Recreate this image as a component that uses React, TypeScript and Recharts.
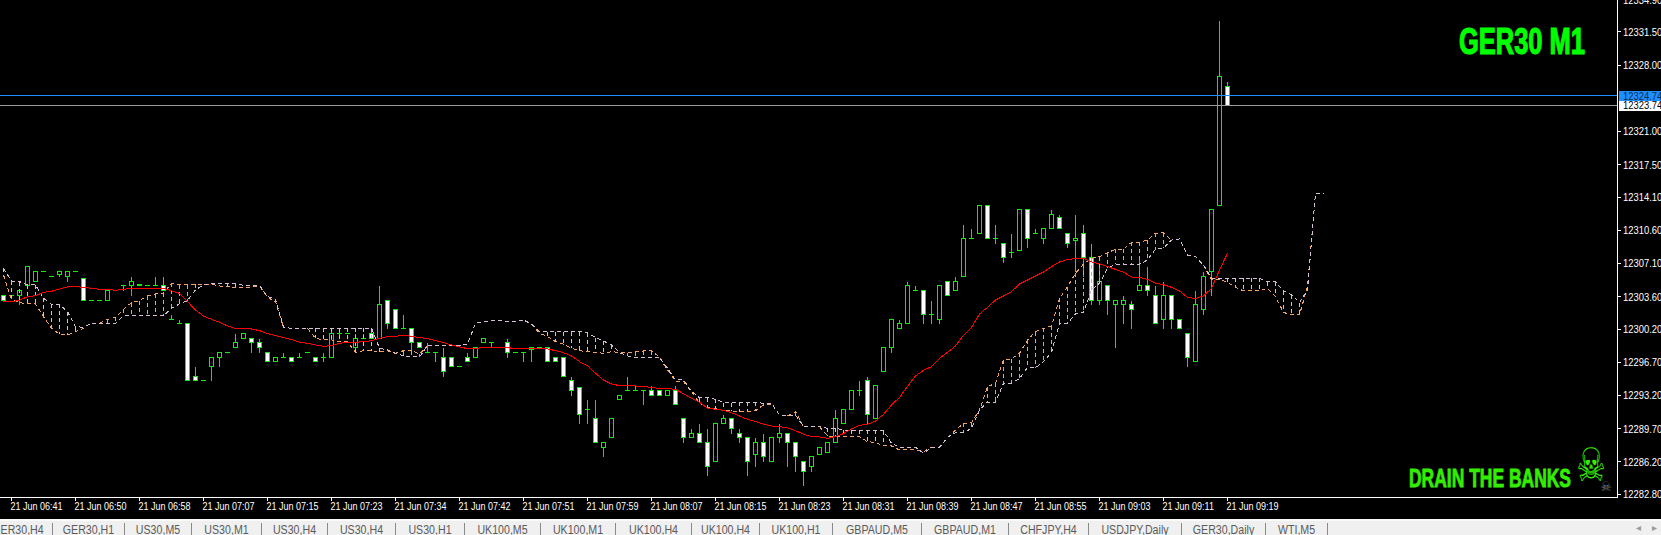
import { Bar, ComposedChart, Line, ReferenceLine, XAxis, YAxis } from 'recharts';

// all prices are stored minus this base
const PRICE_BASE = 12000;

const opens = [
  303.74, 303.74, 303.74, 304.74, 305.24, 306.24, 305.74, 305.99, 305.74, 306.24,
  305.49, 303.24, 303.24, 303.24, 304.24, 304.74, 304.74, 304.74, 304.74, 304.74,
  304.74, 301.24, 300.74, 300.74, 295.24, 294.74, 296.24, 297.24, 297.74, 298.24,
  299.24, 299.24, 298.74, 297.74, 296.74, 297.24, 297.24, 297.24, 297.74, 297.24,
  297.24, 297.24, 299.74, 299.74, 298.24, 299.24, 299.74, 299.24, 303.24, 302.24,
  300.24, 300.24, 298.74, 297.74, 297.74, 297.24, 297.24, 296.24, 297.24, 297.24,
  298.74, 298.74, 298.24, 298.74, 297.74, 297.74, 297.99, 298.24, 298.24, 297.24,
  297.24, 294.74, 293.99, 291.74, 290.74, 287.74, 288.74, 292.74, 293.74, 293.74,
  293.74, 293.74, 293.74, 293.24, 293.74, 290.74, 288.74, 289.24, 288.24, 286.24,
  290.24, 290.74, 289.24, 288.74, 286.99, 288.24, 286.24, 288.74, 289.24, 288.24,
  286.24, 285.74, 286.99, 287.24, 288.24, 290.24, 291.74, 293.74, 294.74, 290.74,
  295.74, 298.24, 300.24, 300.74, 304.24, 304.24, 301.74, 301.24, 305.24, 304.24,
  305.74, 309.74, 310.24, 313.24, 309.74, 309.24, 308.24, 308.49, 312.74, 310.24,
  309.74, 310.74, 311.99, 310.24, 309.49, 310.24, 307.74, 303.24, 304.74, 302.74,
  302.74, 302.74, 304.24, 304.74, 303.74, 301.24, 303.74, 301.24, 299.74, 296.74,
  302.24, 306.24, 313.24, 325.74,
];

const highs = [
  303.74, 303.74, 304.24, 306.74, 306.24, 306.24, 305.74, 306.24, 306.24, 306.24,
  305.49, 303.24, 303.24, 304.24, 304.24, 304.74, 305.74, 304.84, 304.74, 305.74,
  305.74, 301.74, 301.24, 300.74, 296.24, 294.74, 297.24, 297.74, 297.74, 299.74,
  299.74, 299.24, 299.24, 297.74, 297.24, 297.74, 297.24, 297.74, 297.74, 297.24,
  297.74, 300.24, 300.24, 299.74, 299.74, 299.74, 300.24, 304.74, 303.24, 302.24,
  301.74, 300.24, 298.74, 298.74, 297.74, 298.24, 297.24, 296.24, 297.74, 298.24,
  299.24, 298.74, 298.24, 299.24, 297.74, 297.74, 298.24, 298.24, 298.24, 297.24,
  297.24, 295.24, 293.99, 292.74, 292.74, 288.24, 290.74, 293.24, 295.24, 294.24,
  293.74, 294.24, 293.74, 293.74, 294.24, 290.74, 289.74, 290.24, 289.74, 290.24,
  291.24, 290.74, 289.74, 288.74, 288.74, 289.24, 288.74, 290.24, 289.24, 288.24,
  286.24, 286.74, 287.74, 288.24, 291.74, 291.74, 293.74, 294.74, 295.24, 294.24,
  298.24, 301.24, 301.24, 305.24, 304.74, 304.24, 303.24, 304.74, 305.24, 305.74,
  311.24, 310.74, 313.24, 313.24, 311.24, 309.24, 310.24, 312.74, 312.74, 310.74,
  310.74, 312.74, 312.24, 310.24, 312.24, 311.24, 309.24, 306.74, 304.74, 303.24,
  303.74, 303.24, 307.74, 306.74, 304.74, 305.24, 303.74, 301.24, 299.74, 304.24,
  306.24, 312.74, 332.74, 326.24,
];

const lows = [
  303.24, 303.74, 302.74, 304.74, 305.24, 306.24, 305.74, 305.74, 305.24, 306.24,
  303.24, 303.24, 303.24, 303.24, 304.24, 304.24, 303.74, 304.74, 304.74, 304.74,
  304.24, 301.24, 300.74, 294.74, 294.74, 294.74, 294.74, 296.24, 297.74, 298.24,
  299.24, 297.74, 297.74, 296.74, 296.74, 297.24, 296.74, 297.24, 297.74, 296.74,
  296.74, 297.24, 299.24, 299.74, 297.74, 299.24, 299.24, 299.24, 300.24, 300.24,
  300.24, 297.74, 298.24, 297.74, 296.74, 295.24, 296.24, 296.24, 296.74, 297.24,
  298.74, 298.24, 298.24, 297.24, 297.74, 296.74, 296.74, 298.24, 296.74, 296.74,
  295.24, 293.24, 290.24, 290.24, 288.24, 286.74, 288.74, 292.74, 293.74, 293.74,
  292.24, 293.24, 293.24, 293.24, 292.24, 288.24, 288.74, 288.24, 284.74, 286.24,
  290.24, 289.24, 288.24, 284.74, 285.74, 286.24, 286.24, 288.24, 285.74, 285.24,
  283.74, 285.24, 286.99, 287.24, 288.24, 290.24, 291.74, 293.24, 290.24, 290.74,
  295.74, 297.74, 300.24, 300.74, 304.24, 300.74, 300.74, 300.74, 303.74, 304.24,
  305.74, 309.74, 310.24, 309.74, 309.24, 307.24, 307.74, 308.49, 308.74, 310.24,
  309.24, 310.74, 310.74, 308.74, 306.24, 305.74, 302.74, 302.74, 301.74, 298.24,
  300.74, 300.24, 304.24, 303.74, 300.74, 300.24, 300.24, 300.24, 296.24, 296.74,
  301.74, 303.74, 313.24, 323.74,
];

const closes = [
  303.24, 303.74, 304.24, 306.74, 306.24, 306.24, 305.74, 306.24, 306.24, 306.24,
  303.24, 303.24, 303.24, 304.24, 304.24, 304.74, 305.24, 304.84, 304.74, 304.74,
  304.24, 301.24, 300.74, 294.74, 294.74, 294.74, 297.24, 297.74, 297.74, 298.74,
  299.74, 298.74, 298.24, 296.74, 297.24, 297.24, 296.74, 297.24, 297.74, 296.74,
  297.24, 299.74, 299.74, 299.74, 299.24, 299.24, 299.24, 302.74, 300.74, 300.24,
  300.24, 298.74, 298.24, 297.74, 297.74, 295.74, 296.24, 296.24, 296.74, 298.24,
  299.24, 298.74, 298.24, 297.74, 297.74, 297.74, 298.24, 298.24, 296.74, 296.74,
  295.24, 293.74, 291.24, 291.74, 288.24, 288.24, 290.74, 293.24, 293.74, 293.74,
  293.74, 293.24, 293.24, 293.74, 292.24, 288.74, 289.24, 288.24, 285.74, 290.24,
  290.74, 289.74, 288.74, 286.24, 288.24, 286.74, 288.74, 289.24, 288.24, 286.74,
  285.24, 286.74, 287.74, 288.24, 290.74, 291.74, 293.74, 293.74, 291.24, 294.24,
  298.24, 301.24, 300.74, 304.74, 304.24, 301.74, 301.74, 304.74, 303.74, 305.24,
  309.74, 309.74, 313.24, 309.74, 309.74, 307.74, 308.24, 312.74, 309.74, 310.24,
  310.74, 312.24, 310.74, 309.24, 309.74, 307.74, 303.24, 305.24, 303.24, 303.24,
  303.24, 302.24, 304.74, 304.24, 300.74, 303.74, 301.24, 300.24, 297.24, 302.74,
  305.74, 312.74, 326.74, 323.74,
];

const redLine = [
  303.05, 303.08, 303.22, 303.61, 303.71, 304.06, 304.17, 304.41, 304.63, 304.66,
  304.59, 304.49, 304.38, 304.38, 304.28, 304.38, 304.49, 304.49, 304.49, 304.49,
  304.49, 304.21, 303.96, 303.08, 302.2, 301.57, 301.22, 300.91, 300.52, 300.27,
  300.27, 300.2, 300.03, 299.71, 299.5, 299.29, 299.08, 298.8, 298.69, 298.52,
  298.38, 298.45, 298.69, 298.8, 298.8, 298.87, 298.97, 299.22, 299.4, 299.43,
  299.54, 299.43, 299.29, 299.19, 298.98, 298.77, 298.52, 298.31, 298.13, 298.17,
  298.24, 298.27, 298.27, 298.24, 298.13, 298.13, 298.13, 298.13, 298.1, 297.92,
  297.71, 297.36, 296.77, 296.34, 295.54, 294.83, 294.41, 294.24, 294.24, 294.2,
  294.13, 294.06, 293.92, 293.92, 293.85, 293.39, 292.9, 292.48, 291.85, 291.75,
  291.64, 291.39, 291.04, 290.69, 290.48, 290.16, 289.99, 289.92, 289.78, 289.5,
  289.11, 288.9, 288.83, 288.69, 288.87, 289.18, 289.67, 290.05, 290.16, 290.51,
  291.21, 292.2, 293.0, 294.13, 295.25, 295.85, 296.23, 297.11, 297.74, 298.41,
  299.53, 300.38, 301.78, 302.48, 303.25, 303.68, 304.13, 304.94, 305.36, 305.78,
  306.2, 306.77, 307.26, 307.5, 307.64, 307.64, 307.26, 307.05, 306.77, 306.48,
  306.17, 305.68, 305.64, 305.43, 305.01, 304.87, 304.59, 304.2, 303.54, 303.4,
  303.68, 304.48, 306.41, 308.17,
];

const spanA = [
  305.89, 303.33, 302.98, 302.84, 302.84, 301.5, 300.27, 299.64, 299.57, 299.92,
  300.27, 300.8, 300.8, 301.22, 301.43, 302.27, 302.98, 303.19, 303.71, 303.89,
  303.96, 305.01, 304.84, 304.84, 304.91, 304.91, 304.91, 304.73, 304.66, 304.59,
  304.59, 304.59, 304.73, 303.54, 303.08, 300.38, 300.27, 300.27, 300.27, 299.22,
  299.05, 299.05, 298.87, 298.87, 297.71, 297.92, 297.92, 297.81, 297.92, 297.64,
  297.92, 297.92, 297.57, 298.45, 298.49, 298.49, 298.49, 298.49, 298.59, 300.8,
  300.98, 301.05, 301.08, 300.98, 300.98, 301.15, 300.73, 299.75, 299.4, 298.87,
  298.59, 298.17, 297.92, 297.82, 297.75, 297.64, 297.82, 297.71, 297.71, 297.82,
  297.89, 297.92, 297.22, 295.89, 294.73, 294.66, 293.61, 292.38, 291.92, 291.85,
  291.6, 291.57, 291.5, 291.5, 291.6, 292.2, 292.31, 291.15, 291.04, 291.5,
  289.92, 289.92, 289.92, 288.94, 288.87, 288.93, 288.93, 288.86, 288.33, 288.26,
  287.88, 287.88, 287.46, 287.46, 287.46, 287.28, 287.74, 287.74, 288.79, 289.56,
  290.26, 290.33, 291.67, 294.13, 294.48, 296.94, 297.04, 297.64, 299.04, 299.92,
  300.27, 300.52, 303.43, 304.66, 306.06, 307.05, 307.64, 307.82, 308.24, 308.59,
  308.59, 309.33, 309.33, 309.57, 310.28, 310.35, 309.57, 309.68, 307.99, 307.82,
  306.94, 305.37, 305.44, 305.12, 304.6, 304.21, 304.21, 304.21, 304.49, 303.61,
  301.93, 301.75, 301.68, 304.67, 314.5, 314.5,
];

const spanB = [
  306.59, 305.26, 305.19, 304.84, 304.84, 303.43, 302.8, 302.8, 302.03, 300.45,
  300.38, 300.8, 300.8, 300.8, 300.8, 301.57, 301.57, 301.57, 301.57, 301.57,
  301.57, 302.38, 302.84, 303.19, 304.31, 304.84, 304.94, 305.01, 305.01, 305.01,
  304.8, 304.8, 304.8, 303.61, 303.33, 300.38, 300.27, 300.27, 300.27, 300.27,
  300.27, 300.27, 300.27, 300.27, 300.27, 300.27, 300.27, 298.17, 297.99, 297.64,
  297.36, 297.29, 297.25, 298.45, 298.49, 298.49, 298.49, 298.49, 298.59, 300.8,
  300.98, 301.05, 301.08, 300.98, 300.98, 301.15, 300.73, 299.96, 299.92, 299.92,
  299.92, 299.92, 299.92, 299.82, 299.29, 298.94, 298.52, 297.71, 297.36, 297.22,
  297.22, 297.22, 297.22, 296.06, 294.83, 294.83, 293.61, 292.97, 292.97, 292.8,
  292.45, 292.45, 292.48, 292.48, 292.48, 292.38, 292.38, 291.15, 291.04, 291.15,
  289.92, 289.92, 289.92, 289.74, 289.74, 289.56, 289.56, 289.56, 289.56, 289.56,
  289.49, 288.16, 287.74, 287.74, 287.74, 287.11, 287.74, 287.74, 288.79, 289.28,
  289.28, 289.74, 291.67, 292.51, 292.51, 294.48, 294.48, 295.0, 296.13, 296.13,
  296.76, 297.74, 300.8, 300.8, 301.78, 301.96, 304.31, 305.01, 306.59, 307.01,
  307.01, 307.01, 307.01, 307.47, 308.59, 308.7, 309.57, 309.68, 307.99, 307.82,
  306.94, 305.54, 305.54, 305.54, 305.54, 305.54, 305.54, 305.54, 305.19, 305.19,
  304.21, 303.79, 302.98, 304.31, 314.5, 314.5,
];

// first bar that carries a time label, then one label every 8 bars
const timeLabels = [
  '21 Jun 06:41', '21 Jun 06:50', '21 Jun 06:58', '21 Jun 07:07', '21 Jun 07:15',
  '21 Jun 07:23', '21 Jun 07:34', '21 Jun 07:42', '21 Jun 07:51', '21 Jun 07:59',
  '21 Jun 08:07', '21 Jun 08:15', '21 Jun 08:23', '21 Jun 08:31', '21 Jun 08:39',
  '21 Jun 08:47', '21 Jun 08:55', '21 Jun 09:03', '21 Jun 09:11', '21 Jun 09:19',
];

const priceTicks = [
  12334.9, 12331.5, 12328, 12324.74, 12323.74, 12321, 12317.5, 12314.1, 12310.6, 12307.1,
  12303.6, 12300.2, 12296.7, 12293.2, 12289.7, 12286.2, 12282.8,
];

const ASK = 12324.74;
const BID = 12323.74;

const tabNames = [
  'GER30,H4', 'GER30,H1', 'US30,M5', 'US30,M1', 'US30,H4', 'US30,H4', 'US30,H1', 'UK100,M5', 'UK100,M1',
  'UK100,H4', 'UK100,H4', 'UK100,H1', 'GBPAUD,M5', 'GBPAUD,M1', 'CHFJPY,H4', 'USDJPY,Daily', 'GER30,Daily', 'WTI,M5',
];
const tabEdges = [-16, 53, 125, 192, 262, 328, 396, 465, 541, 616, 692, 760, 833, 922, 1009, 1089, 1182, 1266, 1328];

const GREEN = '#12ea12';
const SANDY = '#f4a460';
const THISTLE = '#d8bfd8';
const FONT = '"Liberation Sans", sans-serif';
// the terminal font is narrower than anything installed
const NARROW = 0.82;
// plot edges inside the svg, which sits 4px above the page so the top price label is cut
const PLOT_RIGHT = 1617.5;
const PLOT_BOTTOM = 501.5;

const tickBars = timeLabels.map((_, n) => 1 + n * 8);

// where the two spans run together, draw one: two dash patterns out of phase read as a solid line
const spansMeet = (i: number) => i < 0 || i >= spanA.length || Math.abs(spanA[i] - spanB[i]) < 0.15;

const rows = spanA.map((a, idx) => {
  const b = spanB[idx];
  const hasCandle = idx < opens.length;
  const hideA = spansMeet(idx - 1) && spansMeet(idx) && spansMeet(idx + 1);
  return {
    idx,
    open: hasCandle ? opens[idx] + PRICE_BASE : undefined,
    high: hasCandle ? highs[idx] + PRICE_BASE : undefined,
    low: hasCandle ? lows[idx] + PRICE_BASE : undefined,
    close: hasCandle ? closes[idx] + PRICE_BASE : undefined,
    candle: hasCandle ? [lows[idx] + PRICE_BASE, highs[idx] + PRICE_BASE] : undefined,
    red: hasCandle ? redLine[idx] + PRICE_BASE : undefined,
    spanA: a + PRICE_BASE,
    spanB: b + PRICE_BASE,
    spanALine: hideA ? null : a + PRICE_BASE,
    cloud: [Math.min(a, b) + PRICE_BASE, Math.max(a, b) + PRICE_BASE],
  };
});

const crisp = (v: number) => Math.floor(v) + 0.5;

function CandleShape(props: any) {
  const { x, y, width, height, payload } = props;
  if (!payload || payload.high === undefined) return null;
  const cx = crisp(x + width / 2);
  const range = payload.high - payload.low;
  const perUnit = range > 0 ? height / range : 0;
  const toY = (p: number) => crisp(y + (payload.high - p) * perUnit);
  const top = toY(payload.high);
  const bottom = toY(payload.low);
  const bodyTop = toY(Math.max(payload.open, payload.close));
  const bodyBottom = toY(Math.min(payload.open, payload.close));
  const bear = payload.close < payload.open;
  return (
    <g shapeRendering="crispEdges">
      {bottom > top && <line x1={cx} x2={cx} y1={top} y2={bottom} stroke={GREEN} />}
      {bodyBottom > bodyTop ? (
        <rect
          x={cx - 2}
          y={bodyTop}
          width={4}
          height={bodyBottom - bodyTop}
          fill={bear ? '#fff' : '#000'}
          stroke={GREEN}
        />
      ) : (
        <line x1={cx - 2.5} x2={cx + 2.5} y1={bodyTop} y2={bodyTop} stroke={GREEN} />
      )}
    </g>
  );
}

function CloudHatch(props: any) {
  const { x, y, width, height, payload } = props;
  if (!payload || height < 3) return null;
  const cx = crisp(x + width / 2);
  return (
    <line
      x1={cx}
      x2={cx}
      y1={y}
      y2={y + height}
      stroke={payload.spanA > payload.spanB ? SANDY : THISTLE}
      strokeDasharray="4 3"
      shapeRendering="crispEdges"
    />
  );
}

function TimeTick(props: any) {
  const { x, payload } = props;
  const label = timeLabels[(payload.value - 1) / 8];
  return (
    <g>
      <line x1={x} x2={x} y1={PLOT_BOTTOM} y2={PLOT_BOTTOM + 3} stroke="#fff" shapeRendering="crispEdges" />
      <text transform={`translate(${x - 1} 514) scale(${NARROW} 1)`} fill="#fff" fontSize={11} fontFamily={FONT}>
        {label}
      </text>
    </g>
  );
}

function PriceTick(props: any) {
  const { y, payload } = props;
  const x = PLOT_RIGHT;
  const v = payload.value;
  const isAsk = v === ASK;
  const isBid = v === BID;
  return (
    <g>
      {isAsk && <rect x={x + 1.5} y={y - 5} width={44} height={10} fill="#1e90ff" />}
      {isBid && <rect x={x + 1.5} y={y - 4.5} width={44} height={10} fill="#fff" />}
      {!isAsk && !isBid && <line x1={x} x2={x + 3} y1={y} y2={y} stroke="#fff" shapeRendering="crispEdges" />}
      <text
        transform={`translate(${x + 5.5} ${y + 4}) scale(${NARROW} 1)`}
        fill={isAsk ? '#0a2a50' : isBid ? '#000' : '#fff'}
        fontSize={11.5}
        fontFamily={FONT}
      >
        {v.toFixed(2)}
      </text>
    </g>
  );
}

function TabBar() {
  return (
    <div style={{ position: 'absolute', left: 0, top: 519, width: 1661, height: 16, background: '#f0f0f0', borderTop: '2px solid #fafafa', overflow: 'hidden' }}>
      {tabNames.map((name, i) => (
        <div
          key={i}
          style={{
            position: 'absolute',
            left: tabEdges[i],
            width: tabEdges[i + 1] - tabEdges[i],
            top: 2,
            height: 14,
            borderRight: '1px solid #8a8a8a',
            boxSizing: 'border-box',
          }}
        >
          <div
            style={{
              position: 'absolute',
              left: -20,
              right: -20,
              top: 0,
              lineHeight: '15px',
              textAlign: 'center',
              fontFamily: FONT,
              fontSize: 12.5,
              color: '#5a5a5a',
              whiteSpace: 'nowrap',
              transform: 'scaleX(0.85)',
            }}
          >
            {name}
          </div>
        </div>
      ))}
      <div style={{ position: 'absolute', left: 1636, top: 1, fontSize: 10, color: '#9a9a9a', fontFamily: FONT, wordSpacing: 8 }}>
        ◂ ▸
      </div>
    </div>
  );
}

function Watermarks() {
  return (
    <svg width={1661} height={535} style={{ position: 'absolute', left: 0, top: 0, pointerEvents: 'none' }}>
      <text
        x={1459}
        y={54}
        fill="#00ff00"
        stroke="#00ff00"
        strokeWidth={1.2}
        fontFamily={FONT}
        fontWeight="bold"
        fontSize={37}
        textLength={126}
        lengthAdjust="spacingAndGlyphs"
      >
        GER30 M1
      </text>
      <text
        x={1409}
        y={487}
        fill="#33ee00"
        stroke="#33ee00"
        strokeWidth={0.8}
        fontFamily={FONT}
        fontWeight="bold"
        fontSize={26}
        textLength={162}
        lengthAdjust="spacingAndGlyphs"
      >
        DRAIN THE BANKS
      </text>
      <text
        transform="translate(1591 481) scale(0.72 1)"
        textAnchor="middle"
        fill="#33ee00"
        fontFamily="DejaVu Sans"
        fontSize={46}
      >
        ☠
      </text>
      <text x={1606} y={491} textAnchor="middle" fill="#777" fontFamily="DejaVu Sans" fontSize={13}>
        ☠
      </text>
    </svg>
  );
}

export default function App() {
  return (
    <div style={{ position: 'fixed', left: 0, top: 0, width: 1661, height: 535, background: '#000', overflow: 'hidden' }}>
      <div style={{ position: 'absolute', left: 0, top: -4 }}>
        <ComposedChart
          width={1661}
          height={539}
          data={rows}
          margin={{ top: 0, right: 0, bottom: 0, left: 0 }}
          barSize={8}
        >
          <XAxis
            dataKey="idx"
            type="number"
            scale="linear"
            domain={[-0.4375, 201.75]}
            allowDataOverflow
            ticks={tickBars}
            interval={0}
            height={37.5}
            tick={TimeTick}
            tickLine={false}
            axisLine={{ stroke: '#fff', shapeRendering: 'crispEdges' }}
          />
          {/* second hidden axis so the cloud hatch bars do not share a slot with the candles */}
          <XAxis
            xAxisId="cloud"
            dataKey="idx"
            type="number"
            scale="linear"
            domain={[-0.4375, 201.75]}
            allowDataOverflow
            hide
          />
          <YAxis
            orientation="right"
            type="number"
            domain={[12282.455, 12335.27]}
            allowDataOverflow
            ticks={priceTicks}
            interval={0}
            width={43.5}
            tick={PriceTick}
            tickLine={false}
            axisLine={{ stroke: '#fff', shapeRendering: 'crispEdges' }}
          />
          <Bar dataKey="candle" shape={CandleShape} isAnimationActive={false} />
          <Bar xAxisId="cloud" dataKey="cloud" shape={CloudHatch} isAnimationActive={false} />
          <Line
            dataKey="spanALine"
            stroke={SANDY}
            strokeDasharray="4 3"
            strokeWidth={1}
            dot={false}
            activeDot={false}
            shapeRendering="crispEdges"
            isAnimationActive={false}
          />
          <Line
            dataKey="spanB"
            stroke={THISTLE}
            strokeDasharray="4 3"
            strokeWidth={1}
            dot={false}
            activeDot={false}
            shapeRendering="crispEdges"
            isAnimationActive={false}
          />
          <Line
            dataKey="red"
            stroke="#ff0000"
            strokeWidth={1}
            dot={false}
            activeDot={false}
            shapeRendering="crispEdges"
            isAnimationActive={false}
          />
          <ReferenceLine y={ASK} stroke="#1e90ff" shapeRendering="crispEdges" />
          <ReferenceLine y={BID} stroke="#9a9a9a" shapeRendering="crispEdges" />
        </ComposedChart>
      </div>
      <Watermarks />
      <TabBar />
    </div>
  );
}
